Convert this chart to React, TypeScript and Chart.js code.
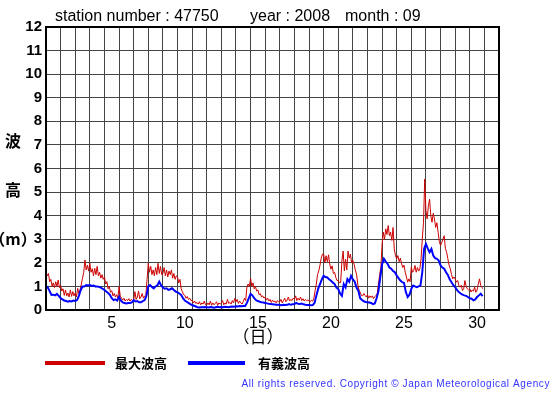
import { useEffect, useRef } from "react";
import { Chart, registerables } from "chart.js";

Chart.register(...registerables);

// ---- data from 1 Sep 2008 00:00 ----
// maximum wave height: 2-hourly samples (12 per day)
const MAX_SAMPLES_PER_DAY = 12;
// significant wave height: 3-hourly samples (8 per day)
const SIG_SAMPLES_PER_DAY = 8;

const maxWave: number[] = [
  1.62, 1.45, 1.55, 1.2, 1.3, 1.0, 1.15, 0.95, 1.2, 1.0, 1.27, 0.95,
  1.05, 0.8, 0.9, 0.62, 0.85, 0.6, 0.72, 0.55, 0.85, 0.58, 0.78, 0.6,
  0.72, 0.55, 0.92, 0.7, 0.85, 1.1, 1.35, 1.6, 2.12, 1.7, 1.9, 1.65,
  1.98, 1.6, 1.75, 1.45, 1.77, 1.5, 1.85, 1.45, 1.6, 1.35, 1.5, 1.3,
  1.4, 1.1, 1.2, 0.9, 0.99, 0.75, 0.82, 0.6, 0.7, 0.55, 0.65, 0.5,
  0.99, 0.6, 0.5, 0.42, 0.5, 0.38, 0.45, 0.4, 0.48, 0.38, 0.45, 0.4,
  0.42, 0.78, 0.45, 0.55, 0.8, 0.48, 0.55, 0.7, 0.5, 0.6, 0.65, 1.3,
  1.98, 1.6, 1.85, 1.5, 1.7, 1.45, 1.8, 1.5, 1.98, 1.55, 1.85, 1.5,
  1.55, 1.8, 1.45, 1.7, 1.4, 1.65, 1.5, 1.7, 1.35, 1.55, 1.3, 1.45,
  1.4, 1.15, 1.3, 0.9, 0.78, 0.65, 0.62, 0.5, 0.57, 0.45, 0.5, 0.4,
  0.42, 0.3, 0.38, 0.28, 0.32, 0.25, 0.35, 0.22, 0.3, 0.25, 0.38, 0.22,
  0.21, 0.3, 0.22, 0.38, 0.2, 0.3, 0.22, 0.28, 0.35, 0.2, 0.3, 0.25,
  0.3, 0.4, 0.22, 0.3, 0.25, 0.45, 0.28, 0.32, 0.25, 0.4, 0.3, 0.49,
  0.35, 0.45, 0.28, 0.38, 0.3, 0.25, 0.35, 0.5, 0.4, 0.99, 1.1, 1.0,
  1.34, 1.0, 1.15, 0.9, 1.0, 0.8, 0.85, 0.65, 0.7, 0.55, 0.6, 0.5,
  0.55, 0.42, 0.5, 0.38, 0.45, 0.32, 0.42, 0.35, 0.38, 0.3, 0.4, 0.35,
  0.35, 0.45, 0.3, 0.4, 0.5, 0.35, 0.42, 0.55, 0.38, 0.45, 0.4, 0.5,
  0.45, 0.6, 0.4, 0.5, 0.42, 0.55, 0.4, 0.48, 0.38, 0.45, 0.4, 0.42,
  0.4, 0.35, 0.42, 0.37, 0.5, 0.82, 1.1, 1.5, 1.66, 1.9, 2.2, 2.37,
  2.37, 2.0, 2.3, 2.05, 2.34, 1.95, 1.73, 1.87, 1.55, 1.6, 1.38, 1.25,
  1.25, 1.15, 1.17, 2.08, 2.5, 1.66, 2.15, 1.7, 2.5, 2.2, 2.37, 2.0,
  2.1, 1.94, 1.7, 1.52, 1.1, 0.85, 0.75, 0.62, 0.6, 0.7, 0.62, 0.55,
  0.65, 0.5, 0.6, 0.53, 0.6, 0.48, 0.56, 0.62, 0.7, 1.1, 1.5, 1.8,
  2.8, 3.3, 3.0, 3.44, 3.2, 3.58, 3.15, 3.3, 2.95, 3.5, 2.59, 2.3,
  2.17, 2.31, 2.05, 2.2, 1.96, 1.8, 1.9, 1.6, 1.4, 1.18, 1.32, 1.2,
  1.82, 1.6, 1.68, 1.89, 1.6, 1.8, 1.65, 1.75, 2.17, 3.0, 3.72, 5.55,
  4.21, 3.86, 4.4, 4.7, 4.0, 3.72, 4.1, 3.86, 3.5, 3.7, 3.3, 2.9,
  2.73, 2.87, 3.0, 3.15, 2.6, 2.45, 2.17, 1.9, 1.75, 1.5, 1.32, 1.4,
  1.32, 1.18, 1.25, 1.05, 0.97, 1.05, 0.83, 0.9, 1.25, 1.0, 0.9, 0.85,
  0.9, 0.76, 0.85, 0.8, 0.97, 0.75, 0.85, 1.1, 1.32, 1.04, 0.95, 0.9,
];

const sigWave: number[] = [
  1.02, 0.95, 0.8, 0.64, 0.65, 0.62, 0.68, 0.6,
  0.5, 0.45, 0.4, 0.38, 0.35, 0.38, 0.36, 0.4,
  0.38, 0.42, 0.6, 0.85, 1.0, 1.0, 1.06, 1.04,
  1.06, 1.02, 1.04, 1.0, 1.0, 0.98, 0.95, 0.9,
  0.85, 0.78, 0.72, 0.64, 0.5, 0.42, 0.45, 0.4,
  0.56, 0.4, 0.32, 0.3, 0.28, 0.3, 0.3, 0.32,
  0.42, 0.36, 0.38, 0.33, 0.33, 0.38, 0.42, 0.6,
  1.0, 1.06, 0.98, 0.92, 1.0, 1.05, 1.2, 1.05,
  0.95, 0.9, 0.92, 0.85, 0.88, 0.92, 0.85, 0.78,
  0.75, 0.7, 0.64, 0.5, 0.4, 0.35, 0.3, 0.25,
  0.21, 0.18, 0.15, 0.12, 0.11, 0.12, 0.12, 0.13,
  0.12, 0.11, 0.13, 0.12, 0.1, 0.12, 0.14, 0.12,
  0.13, 0.12, 0.14, 0.13, 0.12, 0.14, 0.15, 0.14,
  0.16, 0.15, 0.17, 0.16, 0.17, 0.17, 0.3, 0.49,
  0.68, 0.62, 0.5, 0.42, 0.38, 0.35, 0.33, 0.32,
  0.3, 0.28, 0.26, 0.25, 0.24, 0.23, 0.22, 0.22,
  0.21, 0.2, 0.22, 0.21, 0.22, 0.25, 0.22, 0.24,
  0.25, 0.3, 0.26, 0.25, 0.27, 0.24, 0.22, 0.21,
  0.21, 0.2, 0.21, 0.3, 0.6, 0.9, 1.1, 1.3,
  1.45, 1.4, 1.38, 1.3, 1.24, 1.17, 1.1, 0.95,
  0.89, 0.7, 0.6, 1.1, 0.96, 1.31, 1.2, 1.45,
  1.3, 1.2, 0.95, 0.82, 0.5, 0.42, 0.37, 0.34,
  0.33, 0.32, 0.3, 0.25, 0.28, 0.5, 0.8, 1.38,
  1.94, 2.17, 2.05, 1.96, 1.8, 1.75, 1.65, 1.6,
  1.46, 1.35, 1.25, 1.18, 1.15, 0.76, 0.55, 0.65,
  0.9, 1.04, 1.0, 0.97, 1.0, 1.04, 1.6, 2.6,
  2.8, 2.6, 2.45, 2.59, 2.31, 2.2, 2.17, 2.1,
  1.89, 1.8, 1.75, 1.6, 1.49, 1.3, 1.18, 1.05,
  0.97, 0.85, 0.76, 0.7, 0.65, 0.62, 0.6, 0.55,
  0.5, 0.48, 0.41, 0.45, 0.55, 0.62, 0.69, 0.59,
];

const DAY_LABEL_EVERY = 5;
const DAYS_IN_MONTH = 30;
const X_DAYS = 31;
const Y_MAX = 12;

const headerTexts = ["station number : 47750", "year : 2008", "month : 09"];
const seriesNames = ["最大波高", "有義波高"];
const yTitleChars = ["波", "高", "（m）"];
const xTitle = "（日）";
const copyright = "All rights reserved. Copyright © Japan Meteorological Agency";

const RED = "#cc0000";
const BLUE = "#0000ff";

const toPoints = (arr: number[], perDay: number) =>
  arr.map((v, i) => ({ x: i / perDay, y: v }));

const decorations = {
  id: "decorations",
  afterDraw(chart: any) {
    const ctx: CanvasRenderingContext2D = chart.ctx;
    const { left, top, right, bottom } = chart.chartArea;
    ctx.save();
    // frame
    ctx.strokeStyle = "#000";
    ctx.lineWidth = 2;
    ctx.strokeRect(left, top, right - left, bottom - top);

    // header
    ctx.fillStyle = "#000";
    ctx.textBaseline = "middle";
    ctx.textAlign = "left";
    ctx.font = "16px 'Liberation Sans', Arial, sans-serif";
    ctx.fillText(headerTexts[0], 55, 17);
    ctx.fillText(headerTexts[1], 250, 17);
    ctx.fillText(headerTexts[2], 345, 17);

    // y title
    ctx.font = "bold 16px 'Noto Sans CJK JP', sans-serif";
    ctx.textAlign = "center";
    ctx.fillText(yTitleChars[0], 13, 141);
    ctx.fillText(yTitleChars[1], 13, 190);
    ctx.fillText(yTitleChars[2], 13, 239);

    // x title
    ctx.font = "17px 'Noto Sans CJK JP', sans-serif";
    ctx.fillText(xTitle, 258, 337);

    // legend
    ctx.lineWidth = 4;
    ctx.strokeStyle = RED;
    ctx.beginPath();
    ctx.moveTo(45, 363);
    ctx.lineTo(105, 363);
    ctx.stroke();
    ctx.strokeStyle = BLUE;
    ctx.beginPath();
    ctx.moveTo(188, 363);
    ctx.lineTo(245, 363);
    ctx.stroke();
    ctx.font = "bold 13px 'Noto Sans CJK JP', sans-serif";
    ctx.textAlign = "left";
    ctx.fillText(seriesNames[0], 115, 363);
    ctx.fillText(seriesNames[1], 258, 363);

    // copyright
    ctx.fillStyle = "#3333ff";
    ctx.font = "10px 'Liberation Sans', Arial, sans-serif";
    (ctx as any).letterSpacing = "0.6px";
    ctx.textAlign = "right";
    ctx.fillText(copyright, 550, 384);
    ctx.restore();
  },
};

export default function App() {
  const ref = useRef<HTMLCanvasElement | null>(null);
  useEffect(() => {
    if (!ref.current) return;
    const chart = new Chart(ref.current, {
      type: "line",
      data: {
        datasets: [
          {
            label: seriesNames[1],
            data: toPoints(sigWave, SIG_SAMPLES_PER_DAY),
            borderColor: BLUE,
            borderWidth: 2,
            pointRadius: 0,
            tension: 0,
          },
          {
            label: seriesNames[0],
            data: toPoints(maxWave, MAX_SAMPLES_PER_DAY),
            borderColor: RED,
            borderWidth: 1,
            pointRadius: 0,
            tension: 0,
          },
        ],
      },
      options: {
        responsive: false,
        animation: false,
        layout: { padding: { left: 0, top: 27, right: 56, bottom: 0 } },
        plugins: { legend: { display: false }, tooltip: { enabled: false } },
        scales: {
          x: {
            type: "linear",
            min: 0,
            max: X_DAYS,
            border: { display: false },
            grid: { color: "#444", lineWidth: 1, drawTicks: false },
            afterFit: (s: any) => {
              s.height = 85;
            },
            ticks: {
              stepSize: 1,
              autoSkip: false,
              maxRotation: 0,
              padding: 4,
              labelOffset: 7.3,
              color: "#000",
              font: { family: "'Liberation Sans', Arial, sans-serif", size: 16 },
              callback: (v: any) => {
                const day = Number(v) + 1;
                return day % DAY_LABEL_EVERY === 0 && day <= DAYS_IN_MONTH ? String(day) : "";
              },
            },
          },
          y: {
            min: 0,
            max: Y_MAX,
            border: { display: false },
            grid: { color: "#444", lineWidth: 1, drawTicks: false },
            afterFit: (s: any) => {
              s.width = 46;
            },
            ticks: {
              stepSize: 1,
              padding: 4,
              color: "#000",
              font: { family: "'Liberation Sans', Arial, sans-serif", size: 15, weight: "bold" },
            },
          },
        },
      },
      plugins: [decorations],
    });
    return () => chart.destroy();
  }, []);
  return (
    <div style={{ position: "absolute", left: 0, top: 0, width: 555, height: 395, background: "#fff" }}>
      <canvas ref={ref} width={555} height={395} />
    </div>
  );
}
